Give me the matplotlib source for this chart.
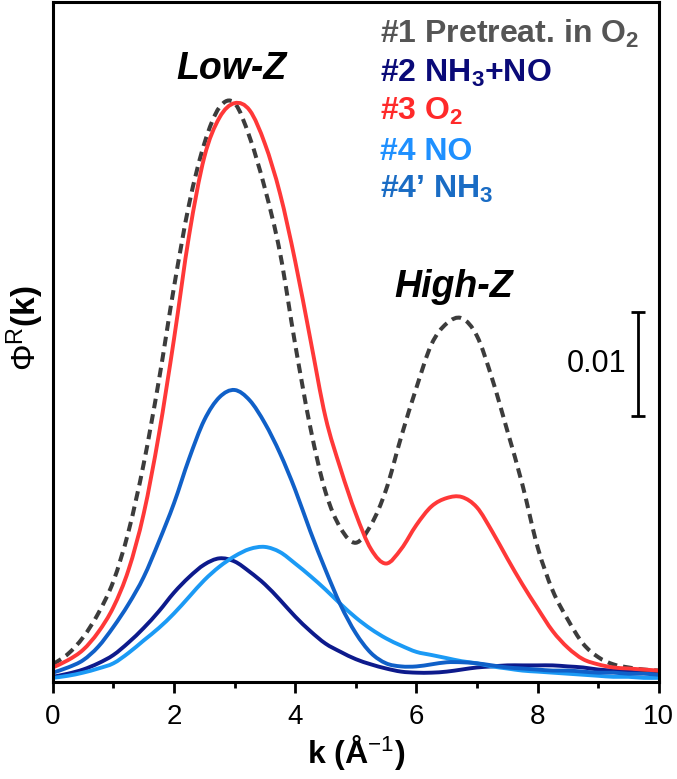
import numpy as np
import matplotlib
matplotlib.use("Agg")
import matplotlib.pyplot as plt
from matplotlib.path import Path
from matplotlib.patches import PathPatch

plt.rcParams['font.family'] = ['Liberation Sans', 'DejaVu Sans']
plt.rcParams['mathtext.fontset'] = 'custom'
plt.rcParams['mathtext.rm'] = 'Liberation Sans'
plt.rcParams['mathtext.bf'] = 'Liberation Sans:bold'
plt.rcParams['mathtext.it'] = 'Liberation Sans:italic'

# k grid (1/A), step 0.25
k = np.arange(0, 10.01, 0.25)

# #1 pretreat. in O2 (grey dashed)
pretreat = [0.0017, 0.0027, 0.0043, 0.0066, 0.0097, 0.0145, 0.0210, 0.0290, 0.0380,
            0.0460, 0.0518, 0.0553, 0.0557, 0.0524, 0.0475, 0.0413, 0.0325, 0.0245,
            0.0183, 0.0148, 0.0134, 0.0151, 0.0185, 0.0236, 0.0283, 0.0325, 0.0345,
            0.0350, 0.0333, 0.0292, 0.0242, 0.0190, 0.0130, 0.0088, 0.0060, 0.0037,
            0.0024, 0.0017, 0.0014, 0.0012, 0.0011]
# #2 NH3+NO
nh3_no = [0.0005, 0.0008, 0.0012, 0.0018, 0.0026, 0.0038, 0.0052, 0.0068, 0.0086,
          0.0101, 0.0113, 0.0119, 0.0116, 0.0106, 0.0094, 0.0079, 0.0063, 0.0049,
          0.0037, 0.0029, 0.0022, 0.0017, 0.0013, 0.0010, 0.0009, 0.0009, 0.0010,
          0.0012, 0.0014, 0.0015, 0.0016, 0.0016, 0.0016, 0.0016, 0.0015, 0.0014,
          0.0012, 0.0011, 0.0010, 0.0009, 0.0009]
# #3 O2
o2 = [0.0014, 0.0021, 0.0031, 0.0048, 0.0072, 0.0108, 0.0162, 0.0238, 0.0330,
      0.0430, 0.0505, 0.0543, 0.0557, 0.0550, 0.0518, 0.0470, 0.0405, 0.0330,
      0.0255, 0.0205, 0.0162, 0.0128, 0.0114, 0.0128, 0.0151, 0.0169, 0.0177,
      0.0178, 0.0168, 0.0145, 0.0119, 0.0094, 0.0071, 0.0049, 0.0033, 0.0022,
      0.0017, 0.0014, 0.0013, 0.0012, 0.0011]
# #4 NO
no = [0.0004, 0.0006, 0.0009, 0.0013, 0.0018, 0.0028, 0.0040, 0.0052, 0.0066,
      0.0082, 0.0098, 0.0111, 0.0121, 0.0128, 0.0130, 0.0125, 0.0114, 0.0102,
      0.0089, 0.0075, 0.0062, 0.0051, 0.0042, 0.0035, 0.0029, 0.0026, 0.0023,
      0.0020, 0.0018, 0.0015, 0.0013, 0.0011, 0.0010, 0.0009, 0.0008, 0.0007,
      0.0006, 0.0005, 0.0005, 0.0004, 0.0004]
# #4' NH3
nh3 = [0.0009, 0.0014, 0.0021, 0.0034, 0.0053, 0.0075, 0.0101, 0.0135, 0.0172,
       0.0215, 0.0252, 0.0274, 0.0281, 0.0271, 0.0249, 0.0220, 0.0185, 0.0145,
       0.0108, 0.0074, 0.0047, 0.0028, 0.0018, 0.0015, 0.0015, 0.0017, 0.0019,
       0.0019, 0.0018, 0.0016, 0.0014, 0.0013, 0.0012, 0.0011, 0.0011, 0.0010,
       0.0009, 0.0009, 0.0008, 0.0008, 0.0007]

labels = [r'#1 Pretreat. in O$_\mathbf{2}$', r'#2 NH$_\mathbf{3}$+NO', r'#3 O$_\mathbf{2}$',
          '#4 NO', '#4\u2019 NH$_\\mathbf{3}$']
label_colors = ['#555555', '#0a0a78', '#ff2a2a', '#1e90ff', '#1a6cc4']


def smooth_curve(ax, x, y, **kw):
    # bezier path through the data points (Catmull-Rom tangents)
    pts = np.column_stack([x, y])
    n = len(pts)
    verts = [pts[0]]
    codes = [Path.MOVETO]
    for i in range(n - 1):
        p0 = pts[max(i - 1, 0)]
        p1 = pts[i]
        p2 = pts[i + 1]
        p3 = pts[min(i + 2, n - 1)]
        verts += [p1 + (p2 - p0) / 6, p2 - (p3 - p1) / 6, p2]
        codes += [Path.CURVE4] * 3
    patch = PathPatch(Path(verts, codes), fill=False, joinstyle='round', **kw)
    ax.add_patch(patch)
    return patch


fig = plt.figure(figsize=(6.77, 7.79), dpi=100)
ax = fig.add_axes([0.078, 0.1245, 0.895, 0.8725])

smooth_curve(ax, k, nh3_no, edgecolor='#0d1a8c', lw=2.8)
smooth_curve(ax, k, no, edgecolor='#1b9af5', lw=2.8)
smooth_curve(ax, k, nh3, edgecolor='#1060c8', lw=2.8)
smooth_curve(ax, k, pretreat, edgecolor='#3c3c3c', lw=2.9, linestyle=(0, (2.4, 1.5)))
smooth_curve(ax, k, o2, edgecolor='#ff3838', lw=2.8)

ax.set_xlim(0, 10)
ax.set_ylim(0, 0.0654)
ax.set_xticks(np.arange(0, 11, 2))
ax.set_xticks(np.arange(1, 10, 2), minor=True)
ax.set_yticks([])
ax.tick_params(axis='x', which='major', direction='out', length=8, width=2, labelsize=20, pad=8)
ax.tick_params(axis='x', which='minor', direction='out', length=4.5, width=2)
for s in ax.spines.values():
    s.set_linewidth(2.2)

ax.set_xlabel(r'k (Å$^{-1}$)', fontsize=23, fontweight='bold', labelpad=2)
ax.set_ylabel(r'$\Phi^\mathrm{R}\mathbf{(k)}$', fontsize=24, va='center')
ax.yaxis.set_label_coords(-0.046, 0.52)

ax.text(2.95, 0.0580, 'Low-Z', fontsize=27, fontweight='bold', fontstyle='italic',
        ha='center', va='baseline')
ax.text(6.62, 0.0370, 'High-Z', fontsize=27, fontweight='bold', fontstyle='italic',
        ha='center', va='baseline')

baselines = [0.9397, 0.8824, 0.8265, 0.7676, 0.7118]
for lab, c, yb in zip(labels, label_colors, baselines):
    ax.text(0.5396, yb, lab, color=c, fontsize=23, fontweight='bold',
            transform=ax.transAxes, ha='left', va='baseline')

# scale bar 0.01
ax.errorbar([9.65], [0.0306], yerr=[0.005], color='black', lw=2, capsize=5, capthick=2)
ax.text(9.47, 0.0306, '0.01', fontsize=22, ha='right', va='center')

fig.savefig('out.png', dpi=100)
